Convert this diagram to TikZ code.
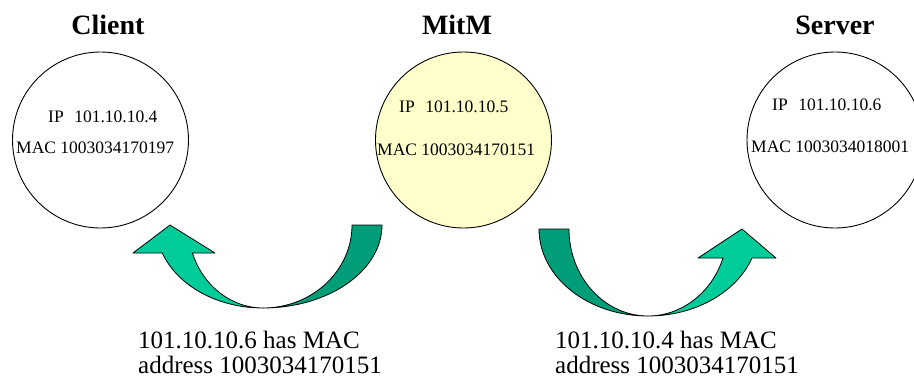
\documentclass[tikz,border=0pt]{standalone}
\usepackage{fontspec}
\setmainfont{Liberation Serif}
\definecolor{darkgreen}{RGB}{0,158,120}
\definecolor{lightgreen}{RGB}{0,204,153}
\definecolor{paleyellow}{RGB}{255,255,204}
\begin{document}
\begin{tikzpicture}[x=1pt,y=-1pt,
  hostcircle/.style={draw=black,line width=0.9pt,circle,minimum size=176pt,inner sep=0pt},
  hosttitle/.style={font=\fontsize{28}{30}\selectfont\bfseries,anchor=base,inner sep=0pt},
  hosttext/.style={font=\fontsize{17.5}{20}\selectfont,anchor=west,inner sep=0pt},
  msgtext/.style={font=\fontsize{25}{25}\selectfont,anchor=base west,inner sep=0pt},
  darkpart/.style={fill=darkgreen,draw=black,line width=0.8pt,line join=round},
  lightpart/.style={fill=lightgreen,draw=black,line width=0.8pt,line join=round}]
\useasboundingbox (0,0) rectangle (914,383);
\clip (0,0) rectangle (914,383);
% circles
\node[hostcircle] (client) at (100.5,140) {};
\node[hostcircle,fill=paleyellow] (mitm) at (463.5,140) {};
\node[hostcircle] (server) at (835,140) {};
% titles
\node[hosttitle] (tclient) at (108,34) {Client};
\node[hosttitle] (tmitm) at (457,34) {MitM};
\node[hosttitle] (tserver) at (835,34) {Server};
% host texts
\node[hosttext] (cip) at (48,117) {IP\hspace{0.6em}101.10.10.4};
\node[hosttext] (cmac) at (16,148) {MAC 1003034170197};
\node[hosttext] (mip) at (399,107) {IP\hspace{0.6em}101.10.10.5};
\node[hosttext] (mmac) at (377,150) {MAC 1003034170151};
\node[hosttext] (sip) at (772,105) {IP\hspace{0.6em}101.10.10.6};
\node[hosttext] (smac) at (751,147) {MAC 1003034018001};
% left arrow (MitM -> Client)
\path[darkpart] (382,225) -- (352,225)
  .. controls (352,270.8) and (312.2,308) .. (263,308)
  .. controls (328.7,308) and (382,270.8) .. (382,225) -- cycle;
\path[lightpart] (263,308)
  .. controls (217.7,308) and (177.6,286) .. (162.3,253)
  -- (133,253) -- (170,225) -- (215,253) -- (192.4,253)
  .. controls (203.1,286) and (231.3,308) .. (263,308) -- cycle;
% right arrow (MitM -> Server)
\path[darkpart] (539,229) -- (569,229)
  .. controls (569,277) and (604.4,316) .. (648,316)
  .. controls (587.8,316) and (539,277) .. (539,229) -- cycle;
\path[lightpart] (648,316)
  .. controls (694.5,316) and (736.5,292.7) .. (752,258)
  -- (776,258) -- (742,229) -- (698,258) -- (723,258)
  .. controls (711.8,292.7) and (681.6,316) .. (648,316) -- cycle;
% messages
\node[msgtext] (m1a) at (138,348) {101.10.10.6 has MAC};
\node[msgtext] (m1b) at (138,373) {address 1003034170151};
\node[msgtext] (m2a) at (555,348) {101.10.10.4 has MAC};
\node[msgtext] (m2b) at (555,373) {address 1003034170151};
\end{tikzpicture}
\end{document}
